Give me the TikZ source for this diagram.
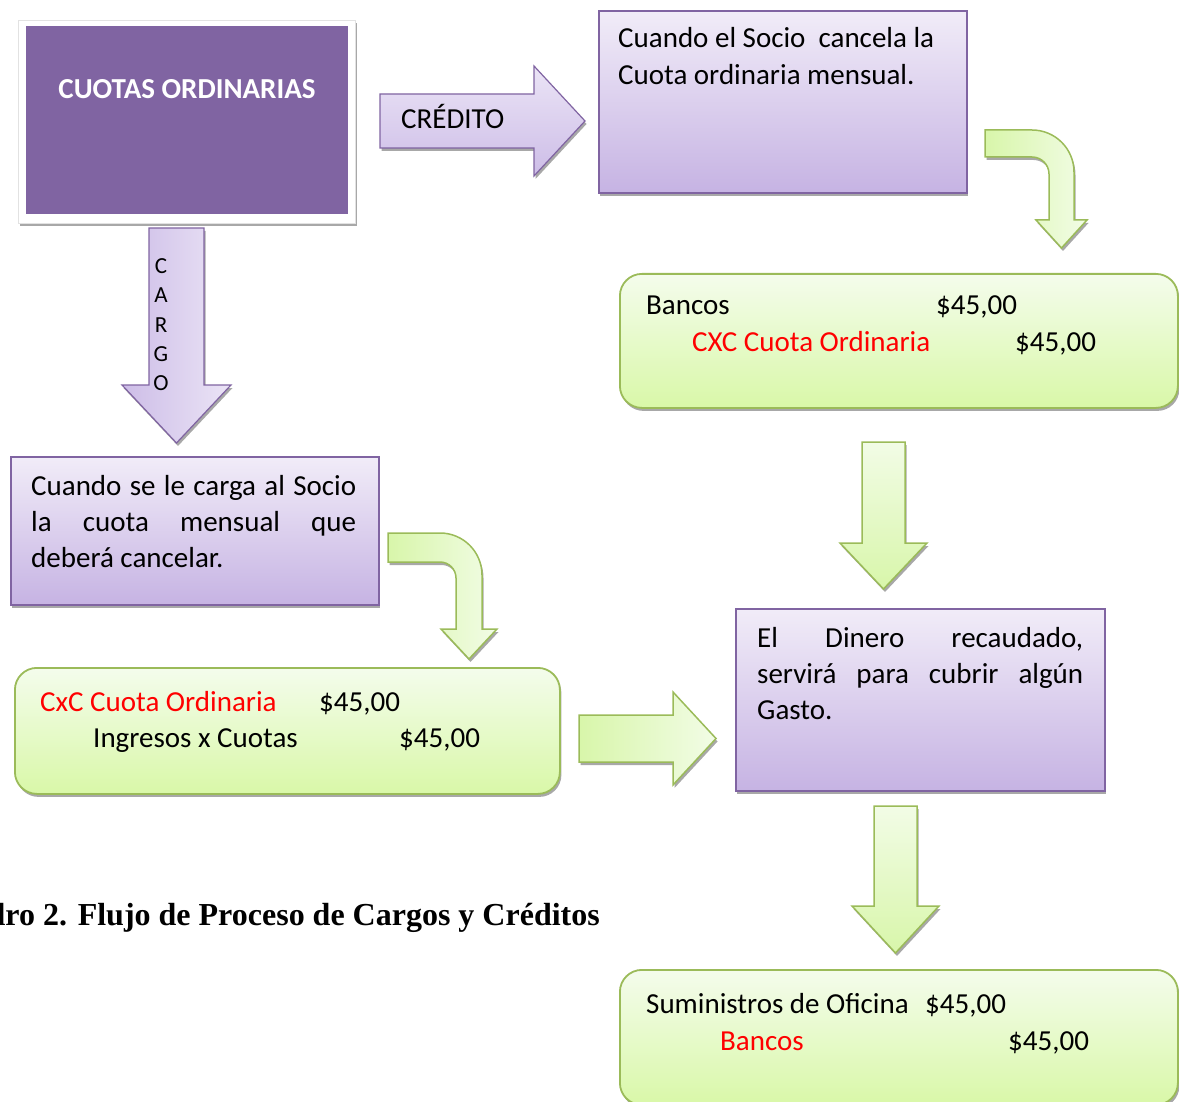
\documentclass[tikz,border=0pt]{standalone}
\usepackage{fontspec}
\setmainfont{Carlito}
\newfontfamily\capfont{Liberation Serif}
\definecolor{pdark}{HTML}{8064A2}
\definecolor{pborder}{HTML}{8064A2}
\definecolor{ptop}{HTML}{F1ECF8}
\definecolor{pbot}{HTML}{C6B3E3}
\definecolor{palight}{HTML}{EBE4F6}
\definecolor{padark}{HTML}{CDBDE7}
\definecolor{gborder}{HTML}{9BBB59}
\definecolor{gtop}{HTML}{F4FCEC}
\definecolor{gbot}{HTML}{D9F8A8}
\definecolor{galight}{HTML}{F2FCE6}
\definecolor{gadark}{HTML}{D8F6AA}
\definecolor{shgray}{HTML}{A8A8A8}
\definecolor{framegray}{HTML}{E2E2E2}
\begin{document}
\begin{tikzpicture}[x=1pt,y=-1pt,
  shadowed/.style={preaction={fill=shgray, transform canvas={xshift=1.5pt,yshift=-3pt}}},
  txt/.style={font=\fontsize{29}{35}\selectfont, inner sep=0pt, anchor=base west},
  pbox/.style={draw=pborder, line width=1.8pt, top color=ptop, bottom color=pbot, shadowed,
    anchor=north west, inner sep=0pt},
  gbox/.style={draw=gborder, line width=1.8pt, top color=gtop, bottom color=gbot, shadowed,
    rounded corners=22pt, anchor=north west, inner sep=0pt},
  parrowv/.style={draw=pborder, line width=1.2pt, top color=palight, bottom color=padark, shadowed},
  parrowh/.style={draw=pborder, line width=1.2pt, left color=padark, right color=palight, shadowed},
  garrowv/.style={draw=gborder, line width=1.5pt, top color=galight, bottom color=gadark, shadowed},
  garrowh/.style={draw=gborder, line width=1.5pt, left color=gadark, right color=galight, shadowed},
  redt/.style={text=red}
]
\useasboundingbox (0,0) rectangle (1179,1102);

% CUOTAS ORDINARIAS frame and box
\node[draw=framegray, line width=0.8pt, fill=white, shadowed, anchor=north west,
  minimum width=337pt, minimum height=203pt, inner sep=0pt] (frame) at (18,20) {};
\node[fill=pdark, anchor=north west, minimum width=322pt, minimum height=188pt, inner sep=0pt]
  (cuotasbox) at (26,26) {};
\node[font=\bfseries\fontsize{29}{35}\selectfont, text=white, inner sep=0pt, anchor=base]
  (cuotas) at (187,99) {CUOTAS ORDINARIAS};

% CREDITO arrow
\path[parrowv] (380,94) -- (534,94) -- (534,66) -- (585,121) -- (534,176) -- (534,148) -- (380,148) -- cycle;
\node[txt] (credito) at (401,129) {CRÉDITO};

% CARGO arrow
\path[parrowh] (149,228) -- (204,228) -- (204,385) -- (231,385) -- (176.5,443) -- (122,385) -- (149,385) -- cycle;
\begin{scope}[every node/.style={font=\fontsize{23}{28}\selectfont, inner sep=0pt, anchor=base}]
\node (c1) at (161,274) {C};
\node (c2) at (161,303) {A};
\node (c3) at (161,332) {R};
\node (c4) at (161,361) {G};
\node (c5) at (161,390) {O};
\end{scope}

% Box: Cuando el Socio cancela
\node[pbox, minimum width=368pt, minimum height=182pt] (socio) at (598,10) {};
\node[txt] (s1) at (618,48) {Cuando el Socio\ \ cancela la};
\node[txt] (s2) at (618,85) {Cuota ordinaria mensual.};

% bent arrow right
\path[garrowh] (985,130) -- (1032,130) .. controls (1055.2,130) and (1074,148.8) .. (1074,172)
  -- (1074,220) -- (1087,220) -- (1061.5,248) -- (1036,220) -- (1049,220) -- (1049,174)
  .. controls (1049,164.6) and (1041.4,157) .. (1032,157) -- (985,157) -- cycle;

% Green box Bancos
\node[gbox, minimum width=558pt, minimum height=134pt] (bancos) at (619,273) {};
\node[txt] (b1) at (646,315) {Bancos};
\node[txt] (b1v) at (936,315) {\$45,00};
\node[txt, redt] (b2) at (692,352) {CXC Cuota Ordinaria};
\node[txt] (b2v) at (1015,352) {\$45,00};

% middle down arrow
\path[garrowv] (862,442) -- (905,442) -- (905,543) -- (927,543) -- (883.5,589) -- (840,543) -- (862,543) -- cycle;

% Box: Cuando se le carga
\node[pbox, minimum width=368pt, minimum height=148pt] (carga) at (10,456) {};
\node[txt] (k1) at (31,495) {\makebox[325pt][s]{Cuando se le carga al Socio}};
\node[txt] (k2) at (31,531) {\makebox[325pt][s]{la cuota mensual que}};
\node[txt] (k3) at (31,567) {deberá cancelar.};

% bent arrow left
\path[garrowh] (388,533) -- (440,533) .. controls (463.2,533) and (482,551.8) .. (482,575)
  -- (482,629) -- (497,629) -- (469,659) -- (441,629) -- (456,629) -- (456,578)
  .. controls (456,569.2) and (448.8,562) .. (440,562) -- (388,562) -- cycle;

% Green box CxC
\node[gbox, minimum width=545pt, minimum height=126pt] (cxc) at (14,667) {};
\node[txt, redt] (x1) at (40,711) {CxC Cuota Ordinaria};
\node[txt] (x1v) at (319,711) {\$45,00};
\node[txt] (x2) at (93,747) {Ingresos x Cuotas};
\node[txt] (x2v) at (399,747) {\$45,00};

% right arrow
\path[garrowh] (579,715) -- (673,715) -- (673,692) -- (716,738.5) -- (673,785) -- (673,762) -- (579,762) -- cycle;

% Box: El Dinero
\node[pbox, minimum width=369pt, minimum height=182pt] (dinero) at (735,608) {};
\node[txt] (d1) at (757,647) {\makebox[326pt][s]{El Dinero recaudado,}};
\node[txt] (d2) at (757,683) {\makebox[326pt][s]{servirá para cubrir algún}};
\node[txt] (d3) at (757,719) {Gasto.};

% bottom down arrow
\path[garrowv] (874,806) -- (917,806) -- (917,906) -- (939,906) -- (895.5,953) -- (852,906) -- (874,906) -- cycle;

% Green box Suministros
\node[gbox, minimum width=558pt, minimum height=135pt] (sumin) at (619,969) {};
\node[txt] (m1) at (646,1013) {Suministros de Oficina};
\node[txt] (m1v) at (925,1013) {\$45,00};
\node[txt, redt] (m2) at (720,1050) {Bancos};
\node[txt] (m2v) at (1008,1050) {\$45,00};

% caption
\node[anchor=base east, inner sep=0pt, font=\capfont\bfseries\fontsize{32}{38}\selectfont]
  (caption) at (600,925) {Cuadro 2. Flujo de Proceso de Cargos y Créditos};
\end{tikzpicture}
\end{document}
